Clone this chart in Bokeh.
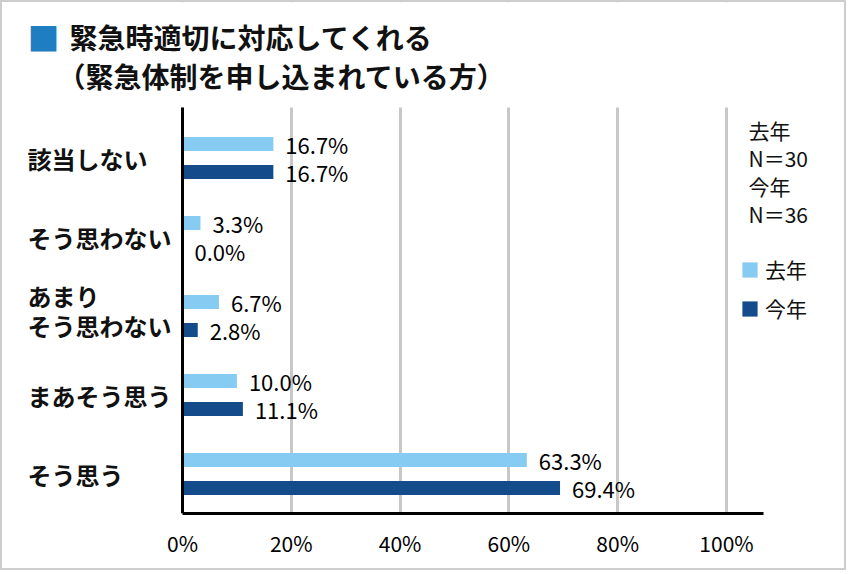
from bokeh.plotting import figure
from bokeh.models import Range1d, FixedTicker, Label, Legend, LegendItem, BoxAnnotation
from bokeh.core.properties import value
from bokeh.embed import file_html
from bokeh.resources import INLINE

categories = ["該当しない", "そう思わない", "あまり\nそう思わない", "まあそう思う", "そう思う"]
last_year = [16.7, 3.3, 6.7, 10.0, 63.3]
this_year = [16.7, 0.0, 2.8, 11.1, 69.4]
series_names = ["去年", "今年"]
n_text = ["去年", "N＝30", "今年", "N＝36"]
x_ticks = [0, 20, 40, 60, 80, 100]
x_tick_labels = ["0%", "20%", "40%", "60%", "80%", "100%"]
title_lines = ["緊急時適切に対応してくれる", "（緊急体制を申し込まれている方）"]

LIGHT = "#86CBF2"
DARK = "#134B8B"
FONT = "Noto Sans CJK JP"

# frame covers the canvas; data 0 sits at the axis, px per unit = 5.44 (x), 79 (y)
PX_X = 5.44
PX_Y = 79.0
X0 = 180  # canvas px of x = 0
Y0 = 116  # canvas px of category area top
W, H = 846, 570
LEFT_B, BOTTOM_B = 10, 59
AXIS_TOP = -11 / PX_Y  # axis and grid reach a little above the first category

p = figure(width=W, height=H, output_backend="svg", toolbar_location=None,
           x_range=Range1d(-(X0 - LEFT_B) / PX_X, (W - X0) / PX_X),
           y_range=Range1d(5, -Y0 / PX_Y),
           min_border_left=LEFT_B, min_border_right=0, min_border_top=0,
           min_border_bottom=BOTTOM_B)
p.styles = {"border": "2px solid #cdcdcd"}
p.outline_line_color = None
p.background_fill_color = "white"
p.border_fill_color = "white"

idx = list(range(len(categories)))
off = 0.177
h = 0.178
y_light = [i + 0.5 - off for i in idx]
y_dark = [i + 0.5 + off for i in idx]

# hide grid above the plotting area
p.add_layout(BoxAnnotation(bottom=AXIS_TOP, top=-Y0 / PX_Y, fill_color="white", fill_alpha=1,
                           line_color=None, level="underlay"))

r1 = p.hbar(y=y_light, right=last_year, left=0, height=h, color=LIGHT, line_color=None)
r2 = p.hbar(y=y_dark, right=this_year, left=0, height=h, color=DARK, line_color=None)

p.text(x=last_year, y=y_light, text=[f"{v:.1f}%" for v in last_year], x_offset=12,
       text_baseline="middle", text_font=value(FONT), text_font_size="22px", text_color="black")
p.text(x=this_year, y=y_dark, text=[f"{v:.1f}%" for v in this_year], x_offset=12,
       text_baseline="middle", text_font=value(FONT), text_font_size="22px", text_color="black")

# x axis
p.xaxis.ticker = FixedTicker(ticks=x_ticks)
p.xaxis.bounds = (0, 106.8)
p.xaxis.major_label_overrides = {t: l for t, l in zip(x_ticks, x_tick_labels)}
p.xaxis.major_label_text_font = FONT
p.xaxis.major_label_text_font_size = "21px"
p.xaxis.major_label_text_color = "black"
p.xaxis.major_label_standoff = 14
p.xaxis.axis_line_width = 3
p.xaxis.axis_line_color = "black"
p.xaxis.major_tick_line_color = None
p.xaxis.major_tick_out = 0
p.xaxis.minor_tick_line_color = None

# y axis at x = 0
p.yaxis.ticker = FixedTicker(ticks=[])
p.yaxis.fixed_location = 0
p.yaxis.bounds = (AXIS_TOP, 5)
p.yaxis.major_label_text_font_size = "0px"
p.yaxis.major_label_standoff = 0
p.yaxis.major_tick_out = 0
p.yaxis.axis_line_width = 3
p.yaxis.axis_line_color = "black"
p.yaxis.major_tick_line_color = None
p.yaxis.minor_tick_line_color = None

p.xgrid.ticker = FixedTicker(ticks=x_ticks)
p.xgrid.grid_line_color = "#c8c8c8"
p.xgrid.grid_line_width = 3
p.ygrid.grid_line_color = None

# category labels (left aligned, multi-line labels split with 30px line pitch)
for i, c in zip(idx, categories):
    lines = c.split("\n")
    n = len(lines)
    for k, line in enumerate(lines):
        p.add_layout(Label(x=0, y=i + 0.5, text=line, x_offset=-155,
                           y_offset=((n - 1) / 2 - k) * 30 + (6 if n > 1 else 0),
                           text_align="left", text_baseline="middle", text_font=FONT,
                           text_font_size="24px", text_font_style="bold",
                           text_color="#111111"))

# title (anchored at the top-left corner of the category area)
p.add_layout(Label(x=0, y=0, text="■", x_offset=-155, y_offset=82, text_align="left",
                   text_baseline="middle", text_font=FONT, text_font_size="32px",
                   text_color="#1F7DC2"))
p.add_layout(Label(x=0, y=0, text=title_lines[0], x_offset=-113, y_offset=82, text_align="left",
                   text_baseline="middle", text_font=FONT, text_font_size="28px",
                   text_font_style="bold", text_color="#111111"))
p.add_layout(Label(x=0, y=0, text=title_lines[1], x_offset=-125, y_offset=43, text_align="left",
                   text_baseline="middle", text_font=FONT, text_font_size="28px",
                   text_font_style="bold", text_color="#111111"))

# N labels
for k, t in enumerate(n_text):
    p.add_layout(Label(x=x_ticks[-1], y=0, text=t, x_offset=22, y_offset=-(11 + 28 * k),
                       text_align="left", text_baseline="middle", text_font=FONT,
                       text_font_size="21px", text_color="#111111"))

legend = Legend(items=[LegendItem(label=series_names[0], renderers=[r1]),
                       LegendItem(label=series_names[1], renderers=[r2])],
                location=(728, 190), orientation="vertical")
legend.glyph_width = 19
legend.glyph_height = 19
legend.label_height = 20
legend.spacing = 9
legend.padding = 0
legend.margin = 0
legend.label_standoff = 6
legend.border_line_color = None
legend.background_fill_alpha = 0
legend.label_text_font = FONT
legend.label_text_font_size = "21px"
legend.label_text_color = "#111111"
p.add_layout(legend, "center")

open("out.html", "w").write(file_html(p, INLINE))
